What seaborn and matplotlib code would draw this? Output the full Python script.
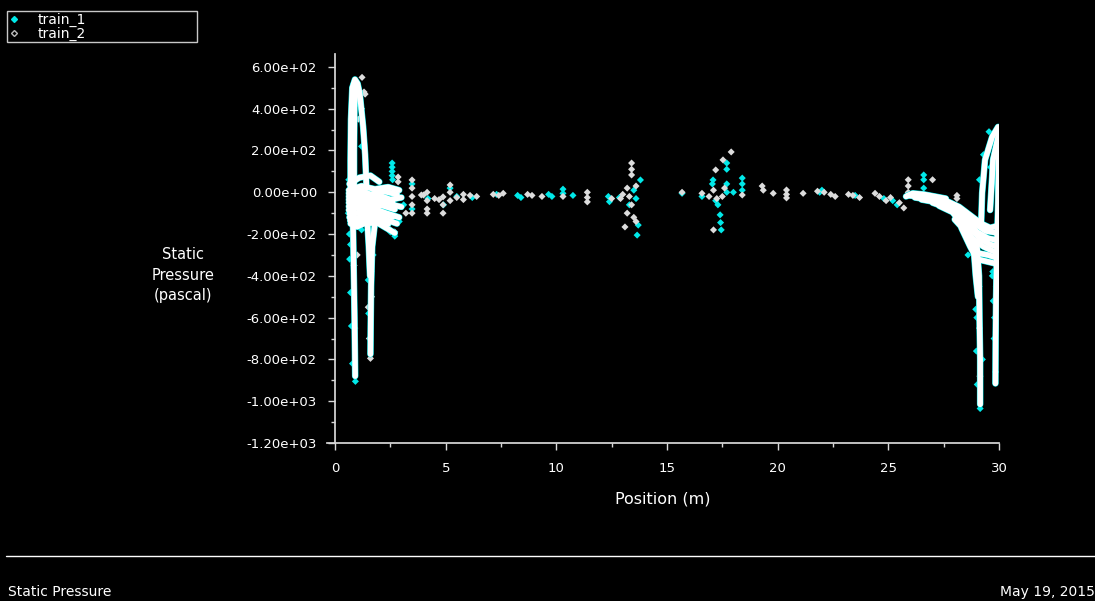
import pandas as pd
import seaborn as sns
import matplotlib.pyplot as plt
from matplotlib.lines import Line2D
from matplotlib.ticker import MultipleLocator, FuncFormatter

series_names = ["train_1", "train_2"]
band_colors = {"train_1": "#00e8e8", "train_2": "#ffffff"}
marker_colors = {"train_1": "#00e8e8", "train_2": "#dcdcdc"}

# dense bands where both trains overlap (position m, static pressure Pa)
nose_up_x = [0.70, 0.70, 0.72, 0.78, 0.90, 1.02, 1.12, 1.27, 1.36, 1.40, 1.42]
nose_up_y = [-60, 150, 350, 500, 540, 520, 470, 313, 180, 80, 20]
nose_mid_x = [0.78, 0.78, 0.80, 0.85]
nose_mid_y = [-40, 200, 420, 520]
nose_inner_x = [0.86, 0.86, 0.88, 0.95]
nose_inner_y = [-40, 200, 420, 500]
nose_drop_x = [0.78, 0.82, 0.85, 0.88, 0.90, 0.91]
nose_drop_y = [-40, -200, -400, -600, -780, -880]
nose_drop2_x = [1.80, 1.68, 1.63, 1.61, 1.60]
nose_drop2_y = [-150, -260, -450, -650, -775]
nose_drop3_x = [1.45, 1.52, 1.58]
nose_drop3_y = [-130, -250, -400]
nose_blob1_x = [0.65, 1.1, 1.6, 2.0]
nose_blob1_y = [40, 70, 80, 50]
nose_blob2_x = [0.62, 1.2, 1.8, 2.4, 2.9]
nose_blob2_y = [10, 30, 15, 25, 10]
nose_blob3_x = [0.62, 1.0, 1.5, 2.0, 2.5, 3.0]
nose_blob3_y = [-20, -5, -30, -15, -35, -25]
nose_blob4_x = [0.62, 1.1, 1.6, 2.1, 2.6, 3.0]
nose_blob4_y = [-50, -45, -60, -45, -60, -70]
nose_blob5_x = [0.62, 1.0, 1.4, 1.8, 2.3, 2.9]
nose_blob5_y = [-85, -75, -95, -80, -100, -120]
nose_blob6_x = [0.65, 1.0, 1.4, 1.9, 2.4, 2.8]
nose_blob6_y = [-120, -125, -115, -110, -135, -150]
nose_blob7_x = [0.70, 1.0, 1.3, 1.9, 2.3, 2.7]
nose_blob7_y = [-150, -165, -150, -145, -170, -195]
nose_blob8_x = [0.62, 1.1, 1.6, 2.2, 2.8]
nose_blob8_y = [-5, 10, -10, 5, -10]
nose_blob9_x = [0.62, 1.0, 1.5, 2.0, 2.6]
nose_blob9_y = [-35, -25, -45, -30, -48]
nose_blob10_x = [0.62, 1.1, 1.6, 2.1, 2.7]
nose_blob10_y = [-68, -60, -78, -62, -82]
nose_blob11_x = [0.65, 1.0, 1.5, 2.0, 2.6]
nose_blob11_y = [-102, -100, -105, -95, -118]
nose_blob12_x = [0.68, 1.0, 1.4, 1.9, 2.4]
nose_blob12_y = [-135, -145, -132, -128, -152]

tail_blob0_x = [25.8, 26.1, 26.6, 27.1, 27.6]
tail_blob0_y = [-20, -5, -10, -20, -30]
tail_blob1_x = [25.9, 26.8, 27.6, 28.2, 28.7, 29.2, 29.6, 29.95]
tail_blob1_y = [-15, -25, -40, -70, -110, -150, -170, -160]
tail_blob2_x = [26.5, 27.3, 28.0, 28.5, 29.0, 29.5, 29.95]
tail_blob2_y = [-35, -50, -80, -130, -190, -220, -230]
tail_blob3_x = [27.3, 27.9, 28.4, 28.8, 29.3, 29.7, 29.95]
tail_blob3_y = [-65, -95, -160, -220, -260, -280, -290]
tail_blob4_x = [28.3, 28.7, 29.0, 29.4, 29.8]
tail_blob4_y = [-170, -260, -320, -330, -340]
tail_blob5_x = [26.2, 27.0, 27.8, 28.4, 28.9, 29.4, 29.95]
tail_blob5_y = [-25, -38, -60, -100, -150, -185, -195]
tail_blob6_x = [27.0, 27.6, 28.2, 28.7, 29.2, 29.6, 29.95]
tail_blob6_y = [-50, -72, -110, -175, -225, -250, -260]
tail_blob7_x = [28.0, 28.6, 29.0, 29.5, 29.95]
tail_blob7_y = [-130, -200, -290, -300, -315]
arc_outer_x = [29.19, 29.24, 29.37, 29.69, 29.96]
arc_outer_y = [-167, -3, 155, 265, 313]
arc_leg_x = [29.98, 29.98, 29.95, 29.90, 29.87, 29.85, 29.84]
arc_leg_y = [310, 100, -100, -300, -500, -700, -915]
arc_inner_x = [29.96, 29.73, 29.69, 29.60]
arc_inner_y = [265, 155, 72, -85]
tail_drop_x = [29.0, 29.1, 29.12, 29.15, 29.15]
tail_drop_y = [-250, -400, -600, -800, -1015]
tail_drop2_x = [28.85, 28.95, 29.05]
tail_drop2_y = [-260, -400, -500]

# scattered points of each train
train1_x = [2.58, 2.58, 2.58, 2.58, 2.60, 3.48, 3.48, 2.5, 2.7, 1.2, 0.65, 0.7,
            1.95, 2.2, 0.92, 1.4, 1.0, 2.9, 3.1, 4.2, 4.9,
            0.66, 0.70, 0.74, 0.79, 0.60, 1.50, 1.52, 1.72, 0.62, 1.08, 1.20,
            5.2, 5.5, 6.2, 7.3, 8.25, 8.4, 9.65, 9.8, 10.3, 10.3, 10.75, 12.35,
            12.4, 12.85, 13.8, 13.5, 13.6, 13.7, 13.65, 13.3, 15.68, 16.58,
            17.08, 17.05, 17.2, 17.4, 17.42, 17.45, 17.7, 17.7, 17.7, 17.7,
            18.0, 18.4, 18.4, 18.4, 17.3,
            21.9, 22.0, 23.5, 24.8, 25.2, 25.4, 26.6, 26.6, 26.6, 27.0, 28.0,
            29.15, 29.0, 29.25, 29.7, 29.8, 29.9, 29.8, 28.6, 29.1,
            28.95, 28.98, 29.02, 29.72, 29.74, 29.78, 29.12, 29.3, 29.55,
            28.3, 27.9, 29.62, 29.85]
train1_y = [140, 120, 100, 80, 60, 40, -80, -190, -210, -180, -200, -250,
            -130, -160, -905, -60, 10, -140, -60, -30, -60,
            -320, -480, -640, -820, -100, -420, -580, -300, 60, 420, 220,
            20, -20, -25, -10, -15, -25, -10, -20, 15, -5, -15, -20,
            -45, -25, 59, 10, -30, -157, -205, -60, -5, -20,
            59, 40, -40, -108, -145, -180, 140, 110, 40, 0,
            0, 68, 40, 10, -60,
            0, 10, -15, -30, -40, -60, 83, 60, 20, -40, -100,
            -1035, -600, -800, -400, -600, -200, 250, -300, -450,
            -560, -760, -920, -380, -520, -700, 60, 180, 290,
            -120, -90, 120, -860]
train2_x = [1.22, 1.31, 1.36, 1.2, 1.05, 2.85, 2.85, 3.48, 3.48, 3.48, 3.48,
            3.48, 4.16, 4.16, 4.16, 4.16, 4.88, 4.88, 4.88, 3.9, 4.0, 4.5, 4.7,
            1.6, 1.55, 1.5, 1.0, 2.4, 2.7, 3.2,
            0.86, 0.89, 1.65, 1.62,
            5.2, 5.2, 5.2, 5.5, 5.8, 5.8, 6.1, 6.4, 7.15, 7.4, 7.6, 8.7, 8.9,
            9.35, 10.3, 11.4, 11.4, 11.4, 12.5, 12.9, 13.4, 13.4, 13.4, 13.2,
            13.3, 13.4, 13.2, 13.5, 13.1, 13.6, 13.0, 13.6, 15.68, 16.58, 16.9,
            17.1, 17.25, 17.1, 17.2, 17.53, 17.9, 17.5, 17.6, 18.4,
            19.3, 19.35, 19.8, 20.4, 20.4, 20.4, 21.15, 21.8, 22.1, 22.4, 22.6,
            23.2, 23.4, 23.7, 24.4, 24.6, 24.9, 25.1, 25.5, 25.7, 25.9, 25.9,
            25.9, 26.3, 26.6, 27.0, 28.1, 28.1,
            29.12, 29.14, 29.87, 29.88, 29.85, 29.9]
train2_y = [550, 480, 470, 400, 350, 73, 50, 59, 20, -20, -60,
            -100, 0, -40, -80, -100, -22, -60, -100, -13, -13, -30, -35,
            -795, -700, -550, -300, -170, -190, -100,
            -350, -650, -500, -380,
            35, 0, -40, -25, -10, -35, -15, -20, -10, -15, -5, -10, -15,
            -20, -20, 0, -25, -46, -30, -30, 140, 110, 83, 20,
            -20, -60, -100, -120, -166, -140, -10, 30, 0, -5, -20,
            10, -30, -180, 107, 155, 193, -20, 20, -13,
            30, 10, -5, 11, -10, -27, -5, 5, 0, -10, -20,
            -10, -15, -25, -5, -20, -40, -25, -50, -75, 60, 30,
            0, -10, -20, 60, -15, -30,
            -650, -880, -300, -450, 120, 200]

bands = [
    (nose_up_x, nose_up_y), (nose_mid_x, nose_mid_y),
    (nose_inner_x, nose_inner_y),
    (nose_drop_x, nose_drop_y), (nose_drop2_x, nose_drop2_y),
    (nose_drop3_x, nose_drop3_y), (nose_blob1_x, nose_blob1_y),
    (nose_blob2_x, nose_blob2_y), (nose_blob3_x, nose_blob3_y),
    (nose_blob4_x, nose_blob4_y), (nose_blob5_x, nose_blob5_y),
    (nose_blob6_x, nose_blob6_y), (nose_blob7_x, nose_blob7_y),
    (nose_blob8_x, nose_blob8_y), (nose_blob9_x, nose_blob9_y),
    (nose_blob10_x, nose_blob10_y), (nose_blob11_x, nose_blob11_y),
    (nose_blob12_x, nose_blob12_y),
    (tail_blob0_x, tail_blob0_y), (tail_blob1_x, tail_blob1_y),
    (tail_blob2_x, tail_blob2_y), (tail_blob3_x, tail_blob3_y),
    (tail_blob4_x, tail_blob4_y), (tail_blob5_x, tail_blob5_y),
    (tail_blob6_x, tail_blob6_y), (tail_blob7_x, tail_blob7_y),
    (arc_outer_x, arc_outer_y),
    (arc_leg_x, arc_leg_y), (arc_inner_x, arc_inner_y),
    (tail_drop_x, tail_drop_y), (tail_drop2_x, tail_drop2_y),
]

rows = []
for name in series_names:
    for i, (bx, by) in enumerate(bands):
        for xv, yv in zip(bx, by):
            rows.append({"series": name, "band": i, "x": xv, "y": yv})
bands_df = pd.DataFrame(rows)
points_df = pd.concat([
    pd.DataFrame({"series": "train_1", "x": train1_x, "y": train1_y}),
    pd.DataFrame({"series": "train_2", "x": train2_x, "y": train2_y}),
])

sns.set_theme(style="ticks", rc={
    "figure.facecolor": "black", "axes.facecolor": "black",
    "axes.edgecolor": "#d8d8d8", "text.color": "white",
    "axes.labelcolor": "white", "xtick.color": "#d8d8d8",
    "ytick.color": "#d8d8d8",
})
plt.rcParams["font.family"] = ["DejaVu Sans"]

fig = plt.figure(figsize=(10.95, 6.01), dpi=100)
ax = fig.add_axes([0.2989, 0.2629, 0.6134, 0.6466])

widths = {"train_1": 4.7, "train_2": 4.0}
for name in series_names:
    sns.lineplot(data=bands_df[bands_df["series"] == name], x="x", y="y",
                 units="band", estimator=None, sort=False,
                 color=band_colors[name], lw=widths[name], ax=ax,
                 legend=False, solid_capstyle="round")
    sns.scatterplot(data=points_df[points_df["series"] == name], x="x", y="y",
                    marker="D", s=13, color=marker_colors[name],
                    edgecolor="none", ax=ax, legend=False)

ax.set_xlim(-0.35, 30)
ax.set_ylim(-1200, 660)
ax.spines["left"].set_position(("data", 0))
ax.spines["top"].set_visible(False)
ax.spines["right"].set_visible(False)
ax.xaxis.set_major_locator(MultipleLocator(5))
ax.xaxis.set_minor_locator(MultipleLocator(2.5))
ax.yaxis.set_major_locator(MultipleLocator(200))
ax.yaxis.set_minor_locator(MultipleLocator(100))
ax.yaxis.set_major_formatter(FuncFormatter(lambda v, p: f"{v:.2e}"))
ax.xaxis.set_major_formatter(FuncFormatter(lambda v, p: f"{v:g}"))
ax.tick_params(which="major", direction="out", length=5, width=1,
               labelsize=9.5, labelcolor="white")
ax.tick_params(which="minor", direction="out", length=3, width=1)
ax.tick_params(axis="y", which="major", pad=8)
ax.tick_params(axis="x", which="major", pad=9)

ax.set_xlabel("Position (m)", fontsize=11.5)
ax.xaxis.set_label_coords(0.5, -0.144)
ax.xaxis.label.set_va("center")
ax.set_ylabel("Static\nPressure\n(pascal)", fontsize=10.5, rotation=0,
              ha="center", va="center", multialignment="center",
              linespacing=1.45)
ax.yaxis.set_label_coords(-0.2148, 0.4323)

handles = [
    Line2D([], [], marker="D", ls="none", color=marker_colors["train_1"],
           markersize=3),
    Line2D([], [], marker="D", ls="none", markerfacecolor="none",
           markeredgecolor="#bbbbbb", markersize=3),
]
leg = ax.legend(handles=handles, labels=series_names, loc="upper left",
                bbox_to_anchor=(7 / 1095, 1 - 40 / 601, 190 / 1095, 29 / 601),
                bbox_transform=fig.transFigure, mode="expand",
                borderaxespad=0, borderpad=0.1, labelspacing=0.0,
                handlelength=0.8, handletextpad=1.3, fontsize=10,
                fancybox=False, framealpha=1, labelcolor="white")
leg.get_frame().set_facecolor("black")
leg.get_frame().set_edgecolor("#c8c8c8")
leg.get_frame().set_linewidth(1)

fig.add_artist(Line2D([6 / 1095, 1], [1 - 556 / 601, 1 - 556 / 601],
                      color="white", lw=1, transform=fig.transFigure))
fig.text(8 / 1095, 1 - 592 / 601, "Static Pressure", fontsize=10,
         ha="left", va="center", color="white")
fig.text(1.0, 1 - 592 / 601, "May 19, 2015", fontsize=10,
         ha="right", va="center", color="white")

fig.savefig("out.png", dpi=100, facecolor="black")
